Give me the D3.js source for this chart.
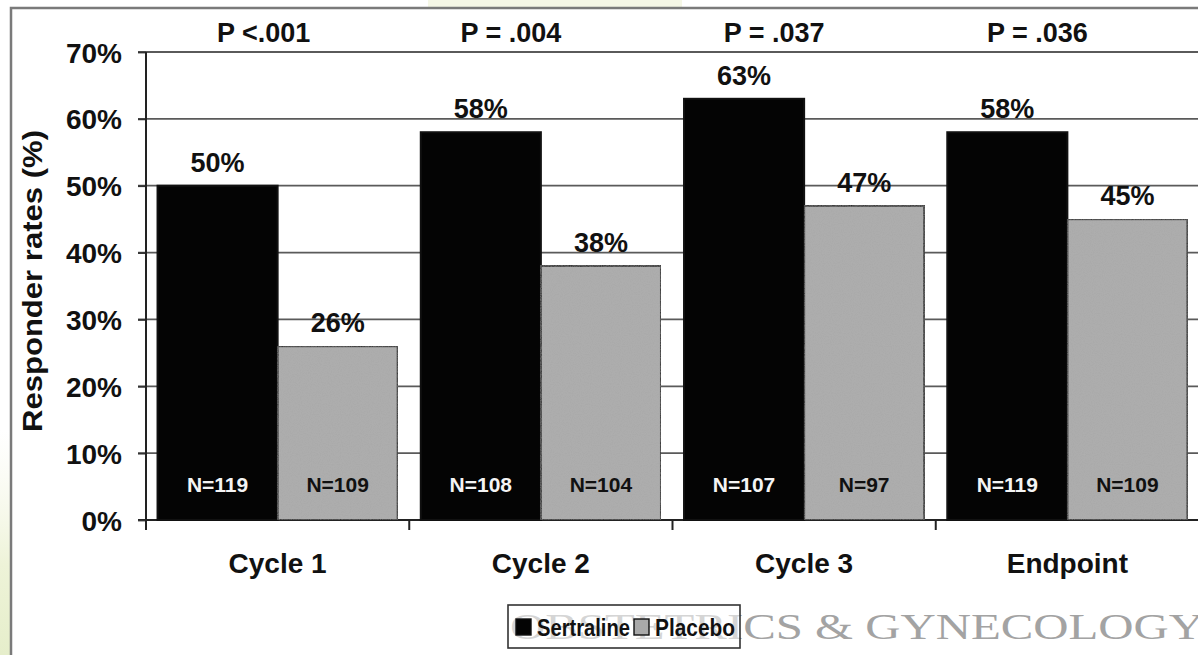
<!DOCTYPE html>
<html>
<head>
<meta charset="utf-8">
<script src="https://cdn.jsdelivr.net/npm/d3@7"></script>
<style>
  html, body { margin: 0; padding: 0; background: #fff; }
  svg { display: block; }
  text { font-family: "Liberation Sans", Arial, Helvetica, sans-serif; font-weight: bold; }
</style>
</head>
<body>
<svg id="chart" width="1198" height="655"></svg>
<script>
// Responder rates by treatment cycle
const categories = ["Cycle 1", "Cycle 2", "Cycle 3", "Endpoint"];
const seriesNames = ["Sertraline", "Placebo"];
const sertraline = [50, 58, 63, 58];
const placebo = [26, 38, 47, 45];
const sertralineN = [119, 108, 107, 119];
const placeboN = [109, 104, 97, 109];
const pLabels = ["P <.001", "P = .004", "P = .037", "P = .036"];
const yTicks = [0, 10, 20, 30, 40, 50, 60, 70];

const svg = d3.select("#chart");
const W = 1198, H = 655;

const plot = { left: 146, right: 1199, top: 52, bottom: 520 };

const x = d3.scaleBand().domain(categories).range([plot.left, plot.right]).paddingInner(0).paddingOuter(0);
const xs = d3.scaleBand().domain(seriesNames).range([0, x.bandwidth()]).paddingInner(0).paddingOuter(0.096);
const y = d3.scaleLinear().domain([0, 70]).range([plot.bottom, plot.top]);
const fills = { Sertraline: "#040404", Placebo: "#a9a9a9" };

const rows = categories.map((c, i) => ({
  cat: c,
  p: pLabels[i],
  bars: [
    { s: "Sertraline", v: sertraline[i], n: sertralineN[i] },
    { s: "Placebo", v: placebo[i], n: placeboN[i] }
  ]
}));

// page decorations behind the figure
const defs = svg.append("defs");
const lg = defs.append("linearGradient").attr("id", "edgeGlow").attr("x1", 0).attr("y1", 0).attr("x2", 0).attr("y2", 1);
lg.append("stop").attr("offset", "0%").attr("stop-color", "#f6f8e8").attr("stop-opacity", 0);
lg.append("stop").attr("offset", "60%").attr("stop-color", "#eef3d8");
lg.append("stop").attr("offset", "100%").attr("stop-color", "#e6eecb");
svg.append("rect").attr("x", 0).attr("y", 430).attr("width", 10).attr("height", 225).attr("fill", "url(#edgeGlow)");
svg.append("rect").attr("x", 428).attr("y", 0).attr("width", 254).attr("height", 7).attr("fill", "#f5f7e6");

// grain for the placebo fill
const f = defs.append("filter").attr("id", "grain").attr("x", 0).attr("y", 0).attr("width", 1).attr("height", 1);
f.append("feTurbulence").attr("type", "fractalNoise").attr("baseFrequency", 0.9).attr("numOctaves", 1).attr("seed", 3).attr("result", "noise");
f.append("feColorMatrix").attr("in", "noise").attr("type", "matrix")
  .attr("values", "0 0 0 0 0.5  0 0 0 0 0.5  0 0 0 0 0.5  0 0 0 0.35 0").attr("result", "mono");
f.append("feComposite").attr("in", "mono").attr("in2", "SourceGraphic").attr("operator", "in").attr("result", "clip");
f.append("feMerge").selectAll("feMergeNode").data(["SourceGraphic", "clip"]).join("feMergeNode").attr("in", d => d);

// outer frame
svg.append("path").attr("d", `M11,${H} L11,8 L${W},8`).attr("fill", "none").attr("stroke", "#7a7a7a").attr("stroke-width", 2.5);

// gridlines
svg.append("g").selectAll("line").data(yTicks).join("line")
  .attr("x1", plot.left - 8).attr("x2", W)
  .attr("y1", d => y(d)).attr("y2", d => y(d))
  .attr("stroke", d => d === 0 ? "#222" : "#5a5a5a")
  .attr("stroke-width", d => d === 0 ? 2 : 1.8);

// y axis
const yAxis = d3.axisLeft(y).tickValues(yTicks).tickFormat(d => d + "%").tickSize(8).tickPadding(16);
const ya = svg.append("g").attr("transform", `translate(${plot.left},0)`).call(yAxis);
ya.select(".domain").remove();
ya.selectAll(".tick line").attr("stroke", "#333").attr("stroke-width", 1.8);
ya.selectAll(".tick text").attr("font-size", 28).attr("fill", "#111").attr("dy", "0.36em");
svg.append("line").attr("x1", plot.left).attr("x2", plot.left).attr("y1", plot.top).attr("y2", plot.bottom + 10)
  .attr("stroke", "#222").attr("stroke-width", 2);

// x axis: separators between categories and category labels
const xa = svg.append("g").attr("transform", `translate(0,${plot.bottom})`);
xa.selectAll("line").data(categories.slice(1)).join("line")
  .attr("x1", d => x(d)).attr("x2", d => x(d)).attr("y1", 0).attr("y2", 10)
  .attr("stroke", "#222").attr("stroke-width", 2);
xa.selectAll("text").data(categories).join("text")
  .attr("x", d => x(d) + x.bandwidth() / 2).attr("y", 53)
  .attr("text-anchor", "middle").attr("font-size", 28).attr("fill", "#111").text(d => d);

// y axis title
svg.append("text").attr("transform", `translate(42,281) rotate(-90)`)
  .attr("text-anchor", "middle").attr("font-size", 27)
  .attr("textLength", 302).attr("lengthAdjust", "spacingAndGlyphs")
  .attr("fill", "#111").text("Responder rates (%)");

// bars
const groups = svg.append("g").selectAll("g").data(rows).join("g")
  .attr("transform", d => `translate(${x(d.cat)},0)`);
groups.selectAll("rect").data(d => d.bars).join("rect")
  .attr("x", d => xs(d.s)).attr("width", xs.bandwidth())
  .attr("y", d => y(d.v)).attr("height", d => y(0) - y(d.v))
  .attr("fill", d => fills[d.s])
  .attr("filter", d => d.s === "Placebo" ? "url(#grain)" : null)
  .attr("stroke", "#111").attr("stroke-width", 2);

// value labels above the bars
groups.selectAll("text.val").data(d => d.bars).join("text").attr("class", "val")
  .attr("x", d => xs(d.s) + xs.bandwidth() / 2).attr("y", d => y(d.v) - 14)
  .attr("text-anchor", "middle").attr("font-size", 27).attr("fill", "#111").text(d => d.v + "%");

// sample sizes inside the bars
groups.selectAll("text.n").data(d => d.bars).join("text").attr("class", "n")
  .attr("x", d => xs(d.s) + xs.bandwidth() / 2).attr("y", plot.bottom - 28)
  .attr("text-anchor", "middle").attr("font-size", 21)
  .attr("fill", d => d.s === "Sertraline" ? "#f4f4f4" : "#111").text(d => "N=" + d.n);

// P values along the top
svg.append("g").selectAll("text").data(rows).join("text")
  .attr("x", (d, i) => x(d.cat) + x.bandwidth() / 2 - (i === 0 ? 14 : 30)).attr("y", 42)
  .attr("text-anchor", "middle").attr("font-size", 27).attr("fill", "#111").text(d => d.p);

// journal watermark, partly behind the legend
svg.append("text").attr("x", 510).attr("y", 639)
  .style("font-family", "'Liberation Serif', 'Times New Roman', serif").style("font-weight", "normal")
  .attr("font-size", 35).attr("textLength", 694).attr("lengthAdjust", "spacingAndGlyphs")
  .attr("fill", "#a3a3a3").text("OBSTETRICS & GYNECOLOGY");

// legend
const leg = svg.append("g").attr("transform", "translate(508,605)");
leg.append("rect").attr("width", 232).attr("height", 43).attr("fill", "#fff").attr("fill-opacity", 0.55)
  .attr("stroke", "#333").attr("stroke-width", 1.6);
const items = leg.selectAll("g").data(seriesNames).join("g")
  .attr("transform", (d, i) => `translate(${i === 0 ? 8 : 126},0)`);
items.append("rect").attr("y", 14).attr("width", 15).attr("height", 16)
  .attr("fill", d => fills[d]).attr("stroke", "#111").attr("stroke-width", 1.4);
items.append("text").attr("x", 21).attr("y", 31).attr("font-size", 24)
  .attr("textLength", d => d === "Sertraline" ? 93 : 80).attr("lengthAdjust", "spacingAndGlyphs")
  .attr("fill", "#111").text(d => d);
</script>
</body>
</html>
